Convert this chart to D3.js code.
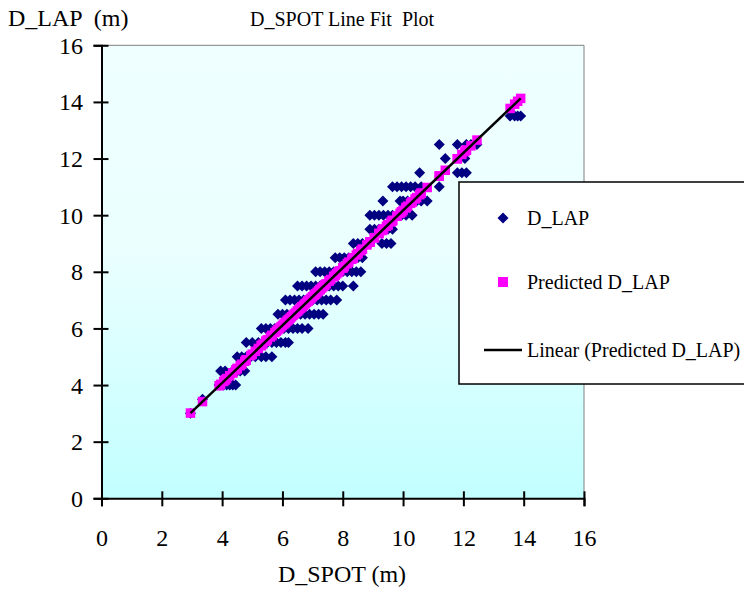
<!DOCTYPE html>
<html>
<head>
<meta charset="utf-8">
<script src="https://cdn.jsdelivr.net/npm/d3@7"></script>
<style>
  body { margin: 0; background: #fff; }
  text { font-family: "Liberation Serif", "Times New Roman", serif; white-space: pre; }
</style>
</head>
<body>
<div id="chart"></div>
<script>
// D_LAP readings come in 0.5 m steps; each row lists the D_SPOT values seen at that level
var lapLevels = [3, 3.5, 4, 4.5, 5, 5.5, 6, 6.5, 7, 7.5, 8, 8.5, 9, 9.5, 10, 10.5, 11, 11.5, 12, 12.5, 13.5];
var spotRows = [
    [2.95],
    [3.35],
    [3.9, 4.05, 4.15, 4.25, 4.35, 4.45],
    [3.95, 4.1, 4.35, 4.5, 4.6, 4.75],
    [4.5, 4.65, 4.8, 4.95, 5.1, 5.3, 5.45, 5.65],
    [4.8, 5.0, 5.2, 5.35, 5.5, 5.65, 5.8, 5.95, 6.1, 6.2],
    [5.3, 5.45, 5.6, 5.75, 5.9, 6.05, 6.2, 6.35, 6.5, 6.65, 6.85],
    [5.85, 6.0, 6.15, 6.3, 6.45, 6.6, 6.75, 6.9, 7.05, 7.2, 7.35],
    [6.1, 6.25, 6.4, 6.55, 6.7, 6.85, 7.0, 7.15, 7.3, 7.45, 7.6, 7.8],
    [6.5, 6.65, 6.8, 6.95, 7.1, 7.25, 7.4, 7.55, 7.7, 7.85, 8.0, 8.35],
    [7.1, 7.25, 7.4, 7.55, 7.7, 7.85, 8.0, 8.15, 8.3, 8.45, 8.6],
    [7.75, 7.9, 8.05, 8.2, 8.35, 8.5, 8.65],
    [8.35, 8.5, 8.65, 8.8, 8.9, 9.3, 9.45, 9.6],
    [8.9, 9.05, 9.2, 9.35, 9.5, 9.65],
    [8.9, 9.05, 9.2, 9.35, 9.5, 9.65, 9.8, 9.95, 10.1, 10.3],
    [9.33, 9.9, 10.0, 10.15, 10.3, 10.45, 10.6, 10.8],
    [9.65, 9.8, 9.95, 10.1, 10.25, 10.4, 10.6, 11.2],
    [10.55, 11.8, 11.95, 12.1],
    [11.4, 12.05],
    [11.2, 11.8, 12.1, 12.25, 12.45],
    [13.55, 13.7, 13.8, 13.9]
];
var xTicks = [0, 2, 4, 6, 8, 10, 12, 14, 16];
var yTicks = [0, 2, 4, 6, 8, 10, 12, 14, 16];
var legendLabels = ["D_LAP", "Predicted D_LAP", "Linear (Predicted D_LAP)"];

var W = 744, H = 592;
var plotL = 101.5, plotR = 584, plotT = 45.3, plotB = 498.3;

// flatten rows into points
var data = [];
lapLevels.forEach(function (lap, i) {
    spotRows[i].forEach(function (s) { data.push({ spot: s, lap: lap }); });
});

// least squares fit of D_LAP on D_SPOT (what the line fit plot shows)
var mx = d3.mean(data, function (d) { return d.spot; }),
    my = d3.mean(data, function (d) { return d.lap; });
var sxy = d3.sum(data, function (d) { return (d.spot - mx) * (d.lap - my); }),
    sxx = d3.sum(data, function (d) { return (d.spot - mx) * (d.spot - mx); });
var slope = sxy / sxx, intercept = my - slope * mx;
data.forEach(function (d) { d.pred = intercept + slope * d.spot; });

var xScale = d3.scaleLinear().domain([0, 16]).range([plotL, plotR]);
var yScale = d3.scaleLinear().domain([0, 16]).range([plotB, plotT]);

var svg = d3.select("#chart").append("svg")
    .attr("width", W)
    .attr("height", H);

// plot area gradient
var grad = svg.append("defs").append("linearGradient")
    .attr("id", "bg").attr("x1", 0).attr("y1", 0).attr("x2", 0).attr("y2", 1);
grad.append("stop").attr("offset", "0%").attr("stop-color", "#efffff");
grad.append("stop").attr("offset", "45%").attr("stop-color", "#ebffff");
grad.append("stop").attr("offset", "100%").attr("stop-color", "#c2ffff");

svg.append("rect")
    .attr("x", plotL).attr("y", plotT)
    .attr("width", plotR - plotL).attr("height", plotB - plotT)
    .attr("fill", "url(#bg)");

// top and right border
svg.append("path")
    .attr("d", "M" + plotL + "," + plotT + "H" + plotR + "V" + plotB)
    .attr("fill", "none")
    .attr("stroke", "#808080")
    .attr("stroke-width", 1);

// x axis
var xAxis = svg.append("g")
    .attr("transform", "translate(0," + plotB + ")")
    .call(d3.axisBottom(xScale).tickValues(xTicks).tickSizeOuter(0).tickSize(8));
xAxis.select(".domain").attr("stroke", "#000").attr("stroke-width", 2);
xAxis.selectAll(".tick line").attr("y1", -7).attr("y2", 8).attr("stroke", "#000").attr("stroke-width", 2);
xAxis.selectAll(".tick text")
    .attr("y", 47.7).attr("dy", 0)
    .attr("font-size", 24).attr("font-family", "Liberation Serif").attr("fill", "#000");

// y axis
var yAxis = svg.append("g")
    .attr("transform", "translate(" + plotL + ",0)")
    .call(d3.axisLeft(yScale).tickValues(yTicks).tickSizeOuter(0).tickSize(8));
yAxis.select(".domain").attr("stroke", "#000").attr("stroke-width", 2);
yAxis.selectAll(".tick line").attr("x1", 7).attr("x2", -8).attr("stroke", "#000").attr("stroke-width", 2);
yAxis.selectAll(".tick text")
    .attr("x", -18.5).attr("dy", 8)
    .attr("font-size", 24).attr("font-family", "Liberation Serif").attr("fill", "#000");

// D_LAP diamonds
var diamond = "M0,-5.5L5.5,0L0,5.5L-5.5,0Z";
svg.append("g").selectAll("path")
    .data(data)
    .enter().append("path")
    .attr("d", diamond)
    .attr("transform", function (d) { return "translate(" + xScale(d.spot) + "," + yScale(d.lap) + ")"; })
    .attr("fill", "#000080");

// predicted squares
svg.append("g").selectAll("rect")
    .data(data)
    .enter().append("rect")
    .attr("x", function (d) { return xScale(d.spot) - 4.75; })
    .attr("y", function (d) { return yScale(d.pred) - 4.75; })
    .attr("width", 9.5).attr("height", 9.5)
    .attr("fill", "#ff00ff");

// linear trendline over the predicted values
var xExt = d3.extent(data, function (d) { return d.spot; });
svg.append("line")
    .attr("x1", xScale(xExt[0])).attr("y1", yScale(intercept + slope * xExt[0]))
    .attr("x2", xScale(xExt[1])).attr("y2", yScale(intercept + slope * xExt[1]))
    .attr("stroke", "#000").attr("stroke-width", 2.5);

// titles
svg.append("text").attr("x", 8).attr("y", 26).attr("font-size", 24).text("D_LAP  (m)");
svg.append("text").attr("x", 250).attr("y", 26).attr("font-size", 20).text("D_SPOT Line Fit  Plot");
svg.append("text").attr("x", 342).attr("y", 582).attr("font-size", 24)
    .attr("text-anchor", "middle").text("D_SPOT (m)");

// legend
var legend = svg.append("g").attr("transform", "translate(459,182)");
legend.append("rect")
    .attr("width", 300).attr("height", 202)
    .attr("fill", "#fff").attr("stroke", "#000").attr("stroke-width", 1.5);
var rows = [36, 100, 168];
legend.append("path").attr("d", diamond).attr("transform", "translate(44," + rows[0] + ")").attr("fill", "#000080");
legend.append("rect").attr("x", 39).attr("y", rows[1] - 5).attr("width", 10).attr("height", 10).attr("fill", "#ff00ff");
legend.append("line").attr("x1", 25).attr("x2", 63).attr("y1", rows[2]).attr("y2", rows[2])
    .attr("stroke", "#000").attr("stroke-width", 2.5);
legend.selectAll("text.lab")
    .data(legendLabels)
    .enter().append("text")
    .attr("class", "lab")
    .attr("x", 68)
    .attr("y", function (d, i) { return rows[i] + 7; })
    .attr("font-size", 20)
    .text(function (d) { return d; });
</script>
</body>
</html>
